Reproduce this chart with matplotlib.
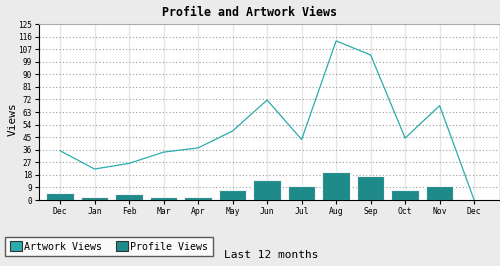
import numpy as np
import matplotlib.pyplot as plt
from matplotlib.patches import Patch

months = ["Dec", "Jan", "Feb", "Mar", "Apr", "May", "Jun",
          "Jul", "Aug", "Sep", "Oct", "Nov", "Dec"]
artwork_views = [35, 22, 26, 34, 37, 49, 71, 43, 113, 103, 44, 67, 0]
profile_views = [5, 2, 4, 2, 2, 7, 14, 10, 20, 17, 7, 10]
ytick_labels = ["0", "9", "18", "27", "36", "45", "54", "63", "72",
                "81", "90", "99", "107", "116", "125"]

line_col = "#2aacac"
bar_col = "#1e8a8a"
bg = "#ebebeb"
mono = "DejaVu Sans Mono"

fig = plt.figure(figsize=(5, 2.66), dpi=100, facecolor=bg)
ax = fig.add_axes([39 / 500, 1 - 200 / 266, 460 / 500, 176 / 266])
ax.set_facecolor("white")

x = np.arange(len(months))
ax.bar(x[:-1], profile_views, width=0.8, color=bar_col,
       edgecolor="#f2f2f2", linewidth=0.8, zorder=2)
ax.plot(x, artwork_views, color=line_col, linewidth=0.9, zorder=3)

yt = np.linspace(0, 125, len(ytick_labels))
ax.set_ylim(0, 125)
ax.set_xlim(-0.61, 12.72)
ax.set_yticks(yt)
ax.set_yticklabels(ytick_labels, family=mono, fontsize=5.6)
ax.set_xticks(x)
ax.set_xticklabels(months, family=mono, fontsize=5.8)
ax.tick_params(axis="both", direction="out", length=3, width=0.8, pad=2)

for v in yt[1:-1]:
    ax.axhline(v, color="#999999", linestyle=(0, (1, 2)), linewidth=0.8, zorder=1)
for xv in x:
    ax.axvline(xv, color="#e6e6e6", linewidth=1, zorder=0)

ax.spines["left"].set_color("black")
ax.spines["bottom"].set_color("black")
ax.spines["top"].set_color("#aaaaaa")
ax.spines["right"].set_visible(False)

ax.set_ylabel("Views", family=mono, fontsize=8)
ax.yaxis.set_label_coords(-0.047, 0.46)
fig.text(0.5, 1 - 12 / 266, "Profile and Artwork Views", ha="center", va="center",
         family=mono, fontsize=8.4, fontweight="bold")

handles = [Patch(facecolor=line_col, edgecolor="#333333", linewidth=0.8),
           Patch(facecolor=bar_col, edgecolor="#333333", linewidth=0.8)]
leg = fig.legend(handles, ["Artwork Views", "Profile Views"], ncol=2,
                 loc="lower left", bbox_to_anchor=(5 / 500, 10 / 266),
                 prop={"family": mono, "size": 7.2}, frameon=True, fancybox=False,
                 handlelength=1.2, handleheight=1.2, handletextpad=0.3,
                 columnspacing=1.3, borderpad=0.45, borderaxespad=0)
leg.get_frame().set_edgecolor("#333333")
leg.get_frame().set_linewidth(1)
leg.get_frame().set_facecolor("white")

fig.text(224 / 500, 1 - 255 / 266, "Last 12 months", ha="left", va="center",
         family=mono, fontsize=8)

fig.savefig("out.png", dpi=100, facecolor=bg)
